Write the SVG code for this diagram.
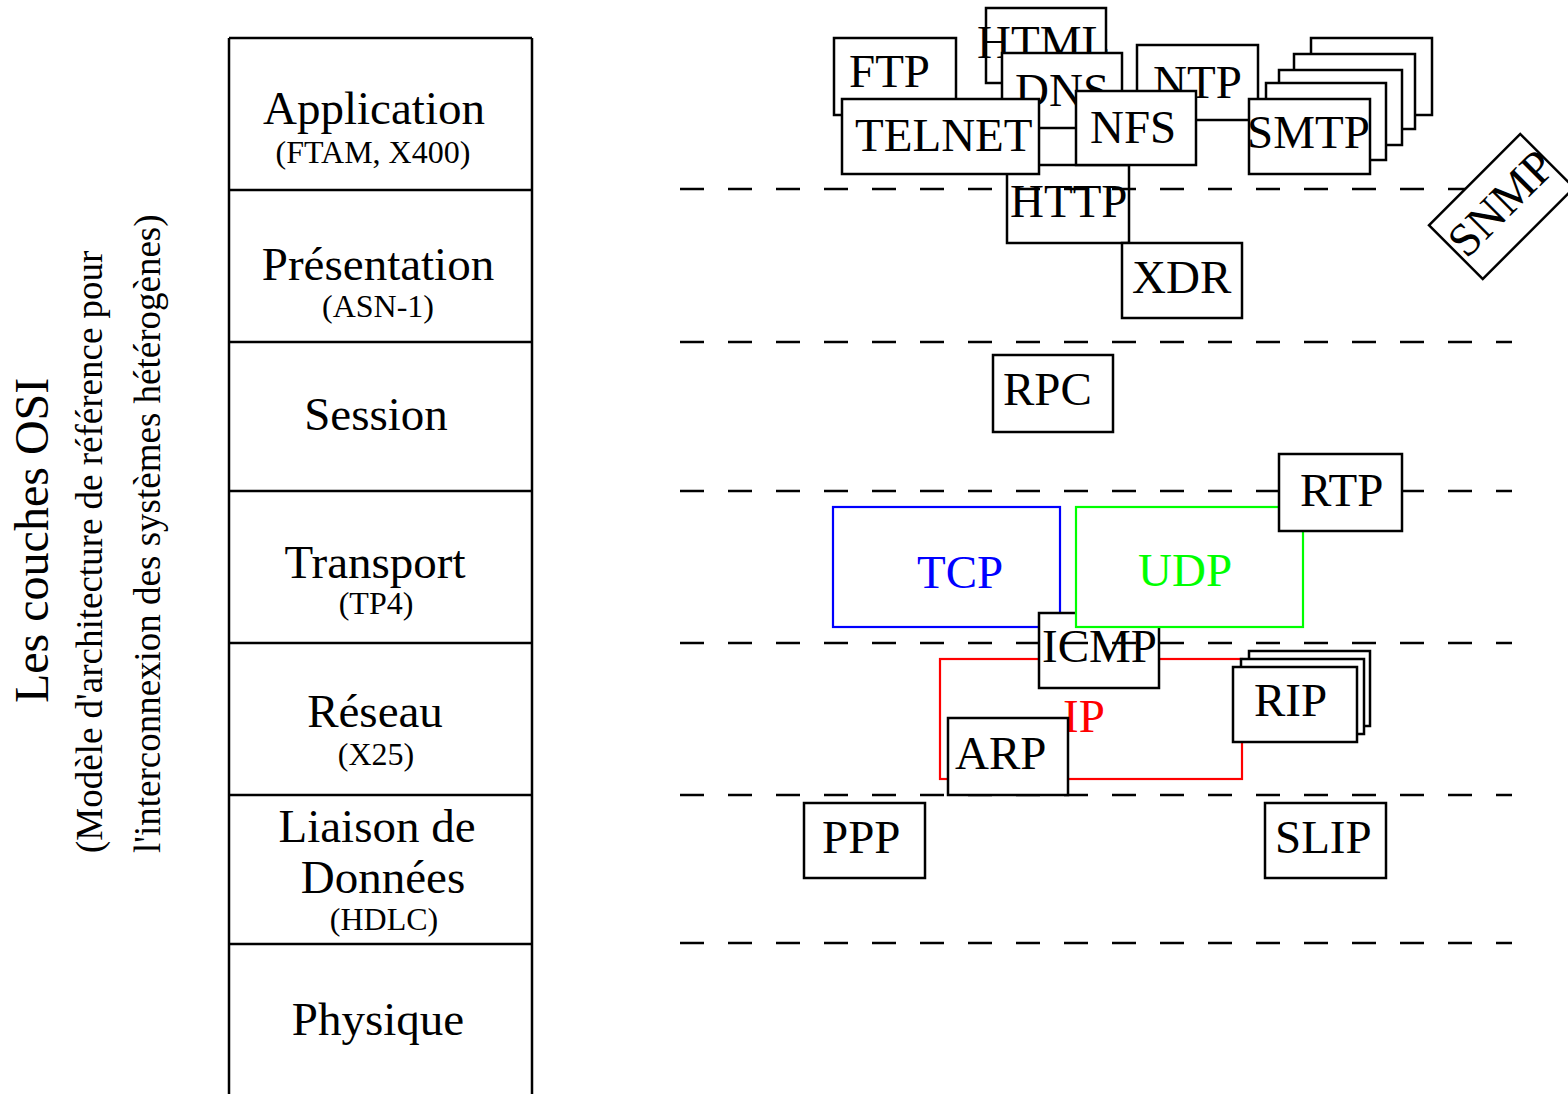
<svg xmlns="http://www.w3.org/2000/svg" width="1568" height="1094" viewBox="0 0 1568 1094">
<style>
  text { font-family: "Liberation Serif", "Times New Roman", serif; fill: #000; }
  .box { fill: #fff; stroke: #000; stroke-width: 2.5; }
  .lbl { font-size: 47px; }
  .big { font-size: 47px; text-anchor: middle; }
  .small { font-size: 32px; text-anchor: middle; }
  .title { font-size: 48px; }
  .sub { font-size: 37px; }
  .table { fill: none; stroke: #000; stroke-width: 2.5; }
  .sep { fill: none; stroke: #000; stroke-width: 2.5; stroke-dasharray: 24 24; }
</style>

<g id="title">
  <text class="title" x="48" y="703" transform="rotate(-90 48 703)">Les couches OSI</text>
  <text class="sub" x="102" y="853" transform="rotate(-90 102 853)">(Modèle d'architecture de référence pour</text>
  <text class="sub" x="160" y="853" transform="rotate(-90 160 853)">l'interconnexion des systèmes hétérogènes)</text>
</g>

<g id="osi-table">
  <path class="table" d="M229,38 V1100 M532,38 V1100 M229,38 H532 M229,190 H532 M229,342 H532 M229,491 H532 M229,643 H532 M229,795 H532 M229,944 H532"/>
  <g id="layer-application">
    <text class="big" x="374" y="124">Application</text>
    <text class="small" x="373" y="163">(FTAM, X400)</text>
  </g>
  <g id="layer-presentation">
    <text class="big" x="378" y="280">Présentation</text>
    <text class="small" x="378" y="317">(ASN-1)</text>
  </g>
  <g id="layer-session">
    <text class="big" x="376" y="430">Session</text>
  </g>
  <g id="layer-transport">
    <text class="big" x="375" y="578">Transport</text>
    <text class="small" x="376" y="614">(TP4)</text>
  </g>
  <g id="layer-reseau">
    <text class="big" x="375" y="727">Réseau</text>
    <text class="small" x="376" y="765">(X25)</text>
  </g>
  <g id="layer-liaison">
    <text class="big" x="377" y="842">Liaison de</text>
    <text class="big" x="383" y="893">Données</text>
    <text class="small" x="384" y="930">(HDLC)</text>
  </g>
  <g id="layer-physique">
    <text class="big" x="378" y="1035">Physique</text>
  </g>
</g>

<g id="ftp"><rect class="box" x="834" y="38" width="122" height="77"/><text class="lbl" x="849" y="87">FTP</text></g>
<g id="html"><rect class="box" x="986" y="8" width="120" height="75"/><text class="lbl" x="977" y="58">HTML</text></g>
<g id="dns"><rect class="box" x="1002" y="53" width="120" height="75"/><text class="lbl" x="1015" y="106">DNS</text></g>
<g id="ntp"><rect class="box" x="1137" y="45" width="121" height="75"/><text class="lbl" x="1153" y="98">NTP</text></g>
<g id="http"><rect class="box" x="1007" y="165" width="122" height="78"/><text class="lbl" x="1010" y="217">HTTP</text></g>
<g id="telnet"><rect class="box" x="842" y="99" width="197" height="75"/><text class="lbl" x="855" y="151">TELNET</text></g>
<g id="nfs"><rect class="box" x="1076" y="91" width="120" height="74"/><text class="lbl" x="1090" y="143">NFS</text></g>
<g id="smtp">
  <rect class="box" x="1311" y="38" width="121" height="77"/>
  <rect class="box" x="1294" y="54" width="121" height="75"/>
  <rect class="box" x="1279" y="70" width="123" height="75"/>
  <rect class="box" x="1266" y="83" width="120" height="77"/>
  <rect class="box" x="1249" y="99" width="121" height="75"/>
  <text class="lbl" x="1247" y="148">SMTP</text>
</g>
<g id="xdr"><rect class="box" x="1122" y="243" width="120" height="75"/><text class="lbl" x="1132" y="293">XDR</text></g>
<g id="rpc"><rect class="box" x="993" y="355" width="120" height="77"/><text class="lbl" x="1003" y="405">RPC</text></g>
<g id="ip"><rect x="940" y="659" width="302" height="120" fill="#fff" stroke="#ff0000" stroke-width="2.2"/><text class="lbl" x="1063" y="732" style="fill:#ff0000">IP</text></g>
<g id="tcp"><rect x="833" y="507" width="227" height="120" fill="#fff" stroke="#0000ff" stroke-width="2.2"/><text class="lbl" x="917" y="588" style="fill:#0000ff">TCP</text></g>
<g id="icmp"><rect class="box" x="1039" y="613" width="120" height="75"/><text class="lbl" x="1042" y="662">ICMP</text></g>
<g id="udp"><rect x="1076" y="507" width="227" height="120" fill="#fff" stroke="#00ff00" stroke-width="2.2"/><text class="lbl" x="1138" y="586" style="fill:#00ff00">UDP</text></g>

<g id="connectors">
  <line class="sep" x1="680" y1="189" x2="1512" y2="189"/>
  <line class="sep" x1="680" y1="342" x2="1512" y2="342"/>
  <line class="sep" x1="680" y1="491" x2="1512" y2="491"/>
  <line class="sep" x1="680" y1="643" x2="1512" y2="643"/>
  <line class="sep" x1="680" y1="795" x2="1512" y2="795"/>
  <line class="sep" x1="680" y1="943" x2="1512" y2="943"/>
</g>

<g id="snmp" transform="translate(1501.5,206.5) rotate(-45)">
  <rect class="box" x="-64.5" y="-38" width="129" height="76"/>
  <text class="lbl" x="2" y="13" text-anchor="middle">SNMP</text>
</g>
<g id="rtp"><rect class="box" x="1279" y="454" width="123" height="77"/><text class="lbl" x="1300" y="506">RTP</text></g>
<g id="arp"><rect class="box" x="948" y="718" width="120" height="77"/><text class="lbl" x="955" y="769">ARP</text></g>
<g id="rip">
  <rect class="box" x="1249" y="651" width="121" height="75"/>
  <rect class="box" x="1241" y="659" width="123" height="75"/>
  <rect class="box" x="1233" y="667" width="124" height="75"/>
  <text class="lbl" x="1254" y="716">RIP</text>
</g>
<g id="ppp"><rect class="box" x="804" y="803" width="121" height="75"/><text class="lbl" x="822" y="853">PPP</text></g>
<g id="slip"><rect class="box" x="1265" y="803" width="121" height="75"/><text class="lbl" x="1275" y="853">SLIP</text></g>
</svg>
